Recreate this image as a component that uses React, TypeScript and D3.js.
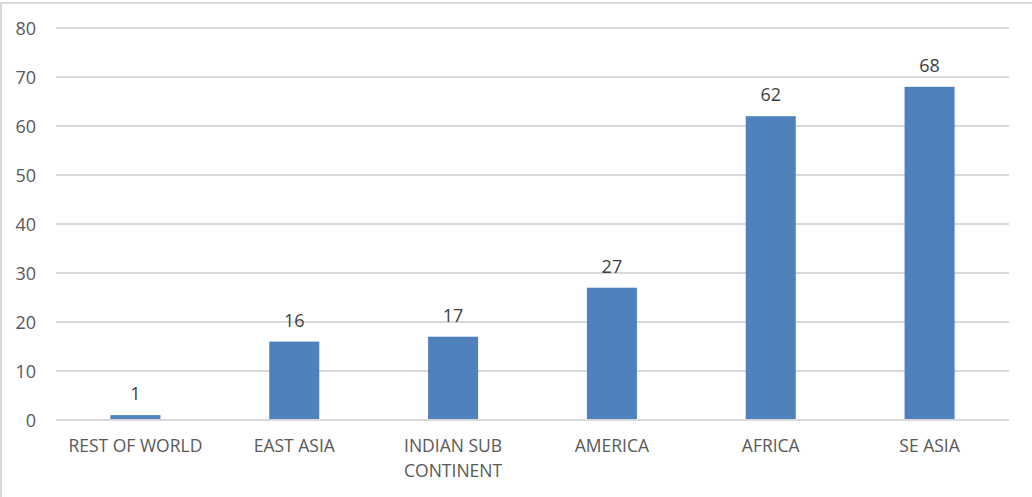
import React from "react";
import * as d3 from "d3";

const categories: string[][] = [
  ["REST OF WORLD"],
  ["EAST ASIA"],
  ["INDIAN SUB", "CONTINENT"],
  ["AMERICA"],
  ["AFRICA"],
  ["SE ASIA"],
];
const values: number[] = [1, 16, 17, 27, 62, 68];
const yTicks: number[] = [0, 10, 20, 30, 40, 50, 60, 70, 80];

const W = 1032;
const H = 497;
const left = 56;
const right = 1009;
const top = 28;
const bottom = 420;
const FONT = "'Open Sans', 'Noto Sans', sans-serif";
const TEXT = "#595959";
const GRID = "#D9D9D9";
const BAR = "#4F81BD";

export default function App() {
  const keys = categories.map((c) => c.join(" "));
  const x = d3.scaleBand<string>().domain(keys).range([left, right]).paddingInner(0.685).paddingOuter(0.3425);
  const y = d3.scaleLinear().domain([0, 80]).range([bottom, top]);
  return (
    <svg width={W} height={H} style={{ position: "absolute", left: 0, top: 0 }}>
      <rect x={0} y={0} width={W} height={H} fill="#fff" />
      <rect x={1} y={3} width={W + 10} height={H + 10} fill="none" stroke={GRID} strokeWidth={2} />
      {yTicks.map((t) => (
        <g key={t}>
          <line x1={left} x2={right} y1={y(t)} y2={y(t)} stroke={GRID} strokeWidth={2} />
          <text x={36} y={y(t) + 6.5} textAnchor="end" fontFamily={FONT} fontSize={18} fill={TEXT}>
            {t}
          </text>
        </g>
      ))}
      {values.map((v, i) => {
        const k = keys[i];
        const bx = x(k)!;
        return (
          <g key={k}>
            <rect x={bx} y={y(v)} width={x.bandwidth()} height={bottom - y(v) - 1} fill={BAR} />
            <text x={bx + x.bandwidth() / 2} y={y(v) - 15} textAnchor="middle" fontFamily={FONT} fontSize={18} fill="#404040">
              {v}
            </text>
          </g>
        );
      })}
      {categories.map((lines, i) => {
        const k = keys[i];
        const cx = x(k)! + x.bandwidth() / 2;
        return (
          <text key={k} x={cx} y={452} textAnchor="middle" fontFamily={FONT} fontSize={17.5} fill={TEXT}>
            {lines.map((l, j) => (
              <tspan key={j} x={cx} dy={j === 0 ? 0 : 25}>
                {l}
              </tspan>
            ))}
          </text>
        );
      })}
    </svg>
  );
}
